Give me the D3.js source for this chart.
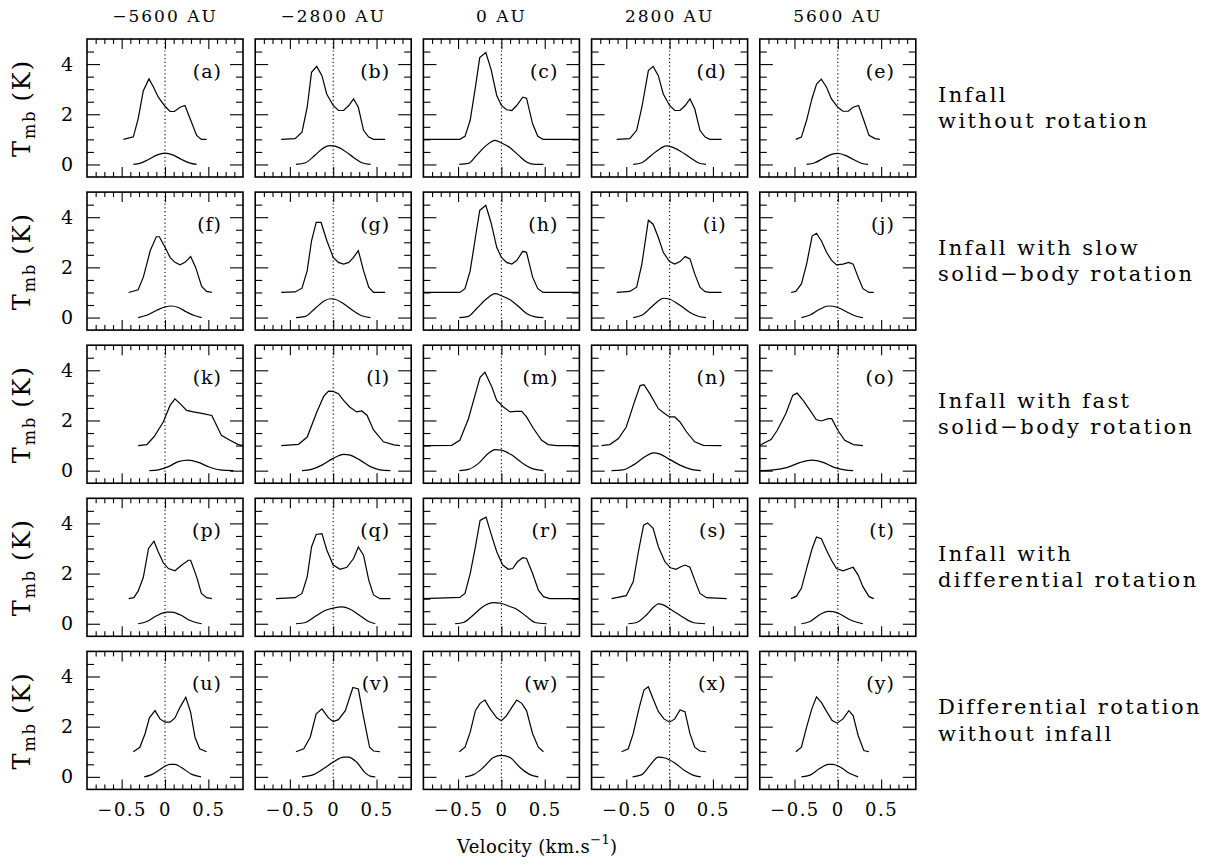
<!DOCTYPE html>
<html>
<head>
<meta charset="utf-8">
<script src="https://cdn.jsdelivr.net/npm/d3@7"></script>
<style>
  body { margin: 0; background: #fff; }
  svg { display: block; }
</style>
</head>
<body>
<div id="chart"></div>
<script>
// offsets along the cut, one per column
const offsets = ["−5600 AU", "−2800 AU", "0 AU", "2800 AU", "5600 AU"];
const rowLabels = [
  ["Infall", "without rotation"],
  ["Infall with slow", "solid−body rotation"],
  ["Infall with fast", "solid−body rotation"],
  ["Infall with", "differential rotation"],
  ["Differential rotation", "without infall"]
];
const panelLetters = "abcdefghijklmnopqrstuvwxy".split("");

const xMajorTicks = [-0.5, 0, 0.5];
const xMinorTicks = [-0.8, -0.7, -0.6, -0.4, -0.3, -0.2, -0.1, 0.1, 0.2, 0.3, 0.4, 0.6, 0.7, 0.8];
const yMajorTicks = [0, 2, 4];
const yMinorTicks = [0.5, 1, 1.5, 2.5, 3, 3.5, 4.5];

// [velocity, Tmb] pairs, upper profile (offset by 1 K) and lower profile
const infallUpper = [
  [[-0.48,1],[-0.365,1.1],[-0.31,1.82],[-0.25,2.94],[-0.185,3.41],[-0.135,3.1],[-0.077,2.68],[0,2.32],[0.058,2.11],[0.108,2.11],[0.173,2.28],[0.23,2.35],[0.29,1.82],[0.365,1.16],[0.42,1],[0.48,1]],
  [[-0.6,1],[-0.44,1.03],[-0.36,1.29],[-0.3,2.28],[-0.25,3.67],[-0.19,3.91],[-0.13,3.54],[-0.075,2.81],[0,2.35],[0.06,2.15],[0.12,2.15],[0.18,2.35],[0.235,2.61],[0.29,2.28],[0.35,1.36],[0.41,1.09],[0.465,1],[0.6,1]],
  [[-0.9,1],[-0.48,1],[-0.42,1.12],[-0.36,1.76],[-0.3,3.08],[-0.25,4.26],[-0.18,4.46],[-0.12,3.8],[-0.054,2.75],[0,2.35],[0.06,2.18],[0.12,2.15],[0.177,2.35],[0.246,2.68],[0.29,2.64],[0.36,1.62],[0.42,1.12],[0.48,1],[0.9,1]],
  [[-0.61,1],[-0.46,1.03],[-0.38,1.36],[-0.32,2.28],[-0.245,3.74],[-0.19,3.91],[-0.13,3.54],[-0.073,2.81],[0,2.35],[0.06,2.15],[0.12,2.15],[0.18,2.35],[0.235,2.61],[0.29,2.22],[0.35,1.36],[0.41,1.09],[0.465,1],[0.6,1]],
  [[-0.485,1],[-0.42,1.09],[-0.36,1.76],[-0.3,2.6],[-0.245,3.2],[-0.19,3.4],[-0.13,3.08],[-0.073,2.61],[0,2.28],[0.06,2.12],[0.12,2.12],[0.177,2.28],[0.24,2.35],[0.3,1.76],[0.36,1.16],[0.43,1.03],[0.485,1]]
];
const infallLower = [
  [[-0.365,0],[-0.29,0.04],[-0.19,0.2],[-0.096,0.37],[0,0.45],[0.096,0.37],[0.19,0.2],[0.29,0.05],[0.365,0]],
  [[-0.43,0],[-0.32,0.07],[-0.21,0.37],[-0.11,0.66],[-0.04,0.75],[0.02,0.73],[0.12,0.57],[0.235,0.28],[0.33,0.07],[0.43,0]],
  [[-0.485,0],[-0.38,0.04],[-0.285,0.37],[-0.17,0.77],[-0.073,0.96],[0,0.86],[0.1,0.67],[0.196,0.37],[0.29,0.1],[0.39,0],[0.485,0]],
  [[-0.42,0],[-0.32,0.07],[-0.21,0.37],[-0.11,0.63],[-0.04,0.74],[0.02,0.7],[0.12,0.54],[0.235,0.28],[0.33,0.07],[0.42,0]],
  [[-0.36,0],[-0.265,0.07],[-0.17,0.24],[-0.073,0.4],[0,0.44],[0.08,0.37],[0.18,0.2],[0.27,0.05],[0.35,0]]
];

const slowRotUpper = [
  [[-0.42,1],[-0.31,1.11],[-0.25,1.61],[-0.17,2.67],[-0.1,3.22],[-0.065,3.22],[0,2.8],[0.058,2.4],[0.115,2.2],[0.173,2.1],[0.23,2.2],[0.296,2.43],[0.354,2.0],[0.423,1.24],[0.48,1.04],[0.54,1]],
  [[-0.6,1],[-0.44,1.02],[-0.36,1.17],[-0.3,1.87],[-0.25,3.06],[-0.196,3.79],[-0.14,3.79],[-0.073,3.06],[0,2.4],[0.06,2.2],[0.12,2.13],[0.18,2.2],[0.235,2.4],[0.29,2.67],[0.35,1.87],[0.41,1.21],[0.465,1],[0.6,1]],
  [[-0.9,1],[-0.48,1],[-0.42,1.15],[-0.36,1.87],[-0.3,3.19],[-0.25,4.27],[-0.18,4.47],[-0.12,3.79],[-0.054,2.8],[0,2.4],[0.06,2.2],[0.12,2.13],[0.177,2.27],[0.246,2.64],[0.29,2.6],[0.36,1.61],[0.42,1.15],[0.48,1],[0.9,1]],
  [[-0.61,1],[-0.46,1.04],[-0.38,1.21],[-0.32,2.13],[-0.245,3.88],[-0.19,3.72],[-0.13,3.19],[-0.073,2.6],[0,2.23],[0.06,2.13],[0.12,2.23],[0.18,2.43],[0.235,2.34],[0.29,1.74],[0.35,1.21],[0.41,1.03],[0.465,1],[0.6,1]],
  [[-0.54,1],[-0.485,1.04],[-0.42,1.34],[-0.36,2.13],[-0.296,3.25],[-0.246,3.36],[-0.19,3.06],[-0.13,2.6],[-0.073,2.29],[-0.015,2.1],[0.06,2.13],[0.127,2.2],[0.177,2.13],[0.235,1.61],[0.29,1.15],[0.36,1],[0.415,1]]
];
const slowRotLower = [
  [[-0.31,0],[-0.21,0.09],[-0.096,0.29],[0,0.42],[0.077,0.46],[0.154,0.4],[0.25,0.22],[0.346,0.07],[0.423,0]],
  [[-0.43,0],[-0.32,0.05],[-0.21,0.36],[-0.11,0.65],[-0.035,0.75],[0.02,0.73],[0.12,0.55],[0.235,0.26],[0.33,0.07],[0.43,0]],
  [[-0.485,0],[-0.38,0.05],[-0.285,0.36],[-0.17,0.75],[-0.073,0.95],[0,0.87],[0.1,0.71],[0.196,0.45],[0.29,0.16],[0.39,0.03],[0.485,0]],
  [[-0.42,0],[-0.32,0.09],[-0.21,0.42],[-0.11,0.71],[-0.07,0.77],[0,0.73],[0.12,0.49],[0.235,0.2],[0.33,0.05],[0.42,0]],
  [[-0.42,0],[-0.32,0.1],[-0.21,0.33],[-0.11,0.46],[-0.054,0.45],[0.04,0.34],[0.14,0.16],[0.215,0.05],[0.29,0]]
];

const fastRotUpper = [
  [[-0.31,1],[-0.21,1.04],[-0.127,1.35],[-0.02,1.94],[0.058,2.6],[0.115,2.86],[0.173,2.67],[0.25,2.4],[0.327,2.34],[0.44,2.27],[0.54,2.2],[0.65,1.41],[0.75,1.21],[0.846,1.04],[0.9,1]],
  [[-0.6,1],[-0.4,1.05],[-0.3,1.34],[-0.19,2.33],[-0.11,2.96],[-0.054,3.17],[0,3.16],[0.06,3.07],[0.12,2.8],[0.19,2.54],[0.27,2.34],[0.33,2.38],[0.39,2.21],[0.465,1.62],[0.58,1.15],[0.7,1.03],[0.77,1]],
  [[-0.9,1],[-0.575,1.01],[-0.48,1.21],[-0.38,2.07],[-0.3,3.06],[-0.246,3.72],[-0.19,3.92],[-0.11,3.33],[-0.054,2.8],[0.023,2.54],[0.1,2.34],[0.158,2.36],[0.235,2.36],[0.29,2.14],[0.37,1.68],[0.465,1.21],[0.54,1.04],[0.64,1],[0.9,1]],
  [[-0.785,1],[-0.69,1.04],[-0.59,1.28],[-0.5,1.74],[-0.4,2.8],[-0.34,3.39],[-0.296,3.43],[-0.227,3.06],[-0.13,2.47],[-0.054,2.27],[0,2.14],[0.06,2.14],[0.12,1.94],[0.196,1.54],[0.29,1.15],[0.39,1.01],[0.6,1]],
  [[-0.9,1],[-0.85,1.1],[-0.77,1.24],[-0.7,1.6],[-0.6,2.27],[-0.52,3.0],[-0.47,3.09],[-0.4,2.8],[-0.32,2.4],[-0.25,2.04],[-0.19,1.98],[-0.11,2.07],[-0.07,2.07],[0,1.61],[0.08,1.21],[0.18,1.04],[0.29,1]]
];
const fastRotLower = [
  [[-0.18,0],[-0.077,0.03],[0.04,0.16],[0.154,0.36],[0.27,0.42],[0.385,0.33],[0.5,0.16],[0.635,0.03],[0.79,0]],
  [[-0.36,0],[-0.25,0.05],[-0.13,0.22],[0,0.49],[0.12,0.65],[0.196,0.62],[0.31,0.42],[0.43,0.16],[0.54,0.03],[0.66,0]],
  [[-0.485,0],[-0.38,0.05],[-0.265,0.29],[-0.15,0.69],[-0.073,0.84],[0,0.82],[0.12,0.62],[0.235,0.32],[0.35,0.09],[0.485,0]],
  [[-0.67,0],[-0.54,0.03],[-0.42,0.22],[-0.285,0.55],[-0.19,0.71],[-0.11,0.66],[0,0.45],[0.12,0.22],[0.25,0.05],[0.36,0]],
  [[-0.9,0],[-0.746,0.03],[-0.59,0.12],[-0.44,0.32],[-0.3,0.42],[-0.17,0.33],[-0.035,0.12],[0.08,0.03],[0.177,0]]
];

const diffRotUpper = [
  [[-0.42,1],[-0.36,1.04],[-0.31,1.3],[-0.25,1.85],[-0.19,3.0],[-0.127,3.29],[-0.077,2.86],[-0.02,2.43],[0.04,2.2],[0.115,2.11],[0.19,2.33],[0.27,2.53],[0.296,2.53],[0.365,1.87],[0.42,1.21],[0.48,1.04],[0.54,1]],
  [[-0.66,1],[-0.44,1.04],[-0.36,1.21],[-0.3,1.87],[-0.25,3.06],[-0.196,3.56],[-0.13,3.59],[-0.073,2.93],[0,2.34],[0.08,2.17],[0.158,2.25],[0.235,2.6],[0.29,3.06],[0.35,2.73],[0.41,1.74],[0.465,1.15],[0.54,1],[0.66,1]],
  [[-0.9,1],[-0.48,1.05],[-0.42,1.21],[-0.36,2.0],[-0.3,3.06],[-0.246,4.12],[-0.177,4.25],[-0.12,3.59],[-0.054,2.87],[0.015,2.34],[0.08,2.17],[0.13,2.2],[0.185,2.47],[0.246,2.63],[0.29,2.6],[0.36,2.0],[0.427,1.34],[0.485,1.08],[0.56,1],[0.9,1]],
  [[-0.67,1],[-0.5,1.12],[-0.42,1.67],[-0.36,2.87],[-0.3,3.93],[-0.254,4.02],[-0.19,3.8],[-0.13,3.07],[-0.054,2.47],[0.01,2.23],[0.073,2.17],[0.13,2.27],[0.177,2.34],[0.235,2.25],[0.29,1.74],[0.35,1.21],[0.427,1.04],[0.66,1]],
  [[-0.54,1],[-0.477,1.1],[-0.42,1.41],[-0.36,2.2],[-0.296,3.0],[-0.246,3.46],[-0.19,3.39],[-0.13,2.93],[-0.073,2.53],[-0.015,2.2],[0.06,2.11],[0.177,2.25],[0.235,1.94],[0.29,1.48],[0.36,1.08],[0.415,1]]
];
const diffRotLower = [
  [[-0.31,0],[-0.21,0.09],[-0.096,0.32],[0.02,0.46],[0.077,0.46],[0.173,0.36],[0.29,0.13],[0.423,0]],
  [[-0.43,0],[-0.32,0.05],[-0.21,0.29],[-0.092,0.53],[0,0.62],[0.1,0.67],[0.196,0.58],[0.31,0.32],[0.41,0.09],[0.485,0]],
  [[-0.535,0],[-0.44,0.05],[-0.32,0.36],[-0.21,0.69],[-0.092,0.84],[-0.015,0.82],[0.08,0.71],[0.177,0.58],[0.29,0.29],[0.39,0.05],[0.523,0]],
  [[-0.477,0],[-0.38,0.05],[-0.265,0.36],[-0.17,0.71],[-0.13,0.79],[-0.073,0.75],[0.023,0.55],[0.14,0.29],[0.27,0.05],[0.41,0]],
  [[-0.42,0],[-0.32,0.09],[-0.21,0.36],[-0.11,0.49],[-0.054,0.48],[0.04,0.36],[0.14,0.16],[0.29,0]]
];

const noInfallUpper = [
  [[-0.365,1],[-0.29,1.18],[-0.23,1.72],[-0.18,2.35],[-0.115,2.64],[-0.058,2.31],[0,2.18],[0.058,2.18],[0.115,2.35],[0.173,2.77],[0.24,3.17],[0.296,2.57],[0.346,1.58],[0.4,1.12],[0.48,1]],
  [[-0.43,1],[-0.34,1.12],[-0.265,1.58],[-0.196,2.51],[-0.13,2.71],[-0.054,2.35],[0,2.2],[0.06,2.28],[0.14,2.64],[0.227,3.56],[0.29,3.5],[0.35,2.38],[0.42,1.18],[0.465,1.03],[0.54,1]],
  [[-0.485,1],[-0.42,1.18],[-0.36,1.78],[-0.3,2.64],[-0.246,2.93],[-0.19,3.06],[-0.13,2.71],[-0.054,2.35],[0,2.24],[0.06,2.44],[0.12,2.77],[0.177,3.06],[0.235,2.93],[0.29,2.64],[0.36,1.72],[0.427,1.18],[0.485,1]],
  [[-0.554,1],[-0.477,1.12],[-0.42,1.72],[-0.35,2.77],[-0.296,3.46],[-0.246,3.59],[-0.19,3.1],[-0.13,2.61],[-0.065,2.31],[0,2.18],[0.06,2.31],[0.12,2.67],[0.177,2.6],[0.235,1.72],[0.29,1.18],[0.35,1.03],[0.42,1]],
  [[-0.485,1],[-0.42,1.18],[-0.36,1.98],[-0.3,2.71],[-0.246,3.19],[-0.19,2.97],[-0.13,2.61],[-0.065,2.24],[-0.008,2.14],[0.06,2.31],[0.127,2.64],[0.177,2.44],[0.235,1.65],[0.3,1.05],[0.36,1]]
];
const noInfallLower = [
  [[-0.24,0],[-0.154,0.09],[-0.058,0.29],[0,0.42],[0.058,0.5],[0.115,0.5],[0.19,0.37],[0.31,0.1],[0.415,0]],
  [[-0.36,0],[-0.227,0.09],[-0.11,0.33],[0,0.59],[0.12,0.79],[0.177,0.79],[0.27,0.59],[0.37,0.16],[0.427,0.03],[0.485,0]],
  [[-0.42,0],[-0.32,0.09],[-0.21,0.37],[-0.092,0.77],[0,0.86],[0.1,0.77],[0.215,0.37],[0.33,0.09],[0.427,0]],
  [[-0.427,0],[-0.32,0.09],[-0.227,0.46],[-0.13,0.79],[-0.05,0.75],[0.06,0.55],[0.177,0.24],[0.27,0.07],[0.36,0]],
  [[-0.42,0],[-0.32,0.07],[-0.21,0.33],[-0.11,0.5],[-0.054,0.5],[0.04,0.36],[0.14,0.13],[0.235,0]]
];

const upperRows = [infallUpper, slowRotUpper, fastRotUpper, diffRotUpper, noInfallUpper];
const lowerRows = [infallLower, slowRotLower, fastRotLower, diffRotLower, noInfallLower];

const width = 1212, height = 865;
const font = "'DejaVu Serif', serif";

const panelW = 156, panelH = 138;
const left0 = 87, colStep = 168.2;
const top0 = 39, rowStep = 153.1;

const svg = d3.select("#chart").append("svg")
  .attr("width", width)
  .attr("height", height)
  .style("font-family", font);

const x = d3.scaleLinear().domain([-0.9, 0.9]).range([0, panelW]);
const y = d3.scaleLinear().domain([-0.5, 5]).range([panelH, 0]);

const upperLine = d3.line().x(d => x(d[0])).y(d => y(d[1]));
const lowerLine = d3.line().curve(d3.curveMonotoneX).x(d => x(d[0])).y(d => y(d[1]));

const fmtX = d => d === 0 ? "0" : d3.format(".1f")(d);

function ticks(g, axis, values, size) {
  g.call(axis.tickValues(values).tickSize(size).tickFormat(""));
  g.select(".domain").remove();
  g.selectAll(".tick line").attr("stroke", "#000").attr("stroke-width", 1.1);
}

for (let r = 0; r < 5; r++) {
  for (let c = 0; c < 5; c++) {
    const px = left0 + c * colStep;
    const py = top0 + r * rowStep;
    const g = svg.append("g").attr("transform", `translate(${px},${py})`);

    // ticks on all four sides, pointing inward
    ticks(g.append("g").attr("transform", `translate(0,${panelH})`), d3.axisBottom(x), xMajorTicks, -10);
    ticks(g.append("g").attr("transform", `translate(0,${panelH})`), d3.axisBottom(x), xMinorTicks, -5);
    ticks(g.append("g"), d3.axisTop(x), xMajorTicks, -10);
    ticks(g.append("g"), d3.axisTop(x), xMinorTicks, -5);
    ticks(g.append("g"), d3.axisLeft(y), yMajorTicks, -13);
    ticks(g.append("g"), d3.axisLeft(y), yMinorTicks, -7);
    ticks(g.append("g").attr("transform", `translate(${panelW},0)`), d3.axisRight(y), yMajorTicks, -13);
    ticks(g.append("g").attr("transform", `translate(${panelW},0)`), d3.axisRight(y), yMinorTicks, -7);

    g.append("rect")
      .attr("width", panelW)
      .attr("height", panelH)
      .attr("fill", "none")
      .attr("stroke", "#000")
      .attr("stroke-width", 1.6);

    // dotted line at zero velocity
    g.append("line")
      .attr("x1", x(0)).attr("x2", x(0))
      .attr("y1", 0).attr("y2", panelH)
      .attr("stroke", "#000")
      .attr("stroke-width", 1.1)
      .attr("stroke-dasharray", "1.2,2.6");

    g.append("path")
      .attr("d", upperLine(upperRows[r][c]))
      .attr("fill", "none")
      .attr("stroke", "#000")
      .attr("stroke-width", 1.2);

    g.append("path")
      .attr("d", lowerLine(lowerRows[r][c]))
      .attr("fill", "none")
      .attr("stroke", "#000")
      .attr("stroke-width", 1.2);

    g.append("text")
      .attr("x", panelW - 21)
      .attr("y", 38.5)
      .attr("text-anchor", "end")
      .attr("font-size", 19)
      .attr("letter-spacing", 1)
      .text(`(${panelLetters[r * 5 + c]})`);

    if (c === 0) {
      const yl = g.append("g")
        .call(d3.axisLeft(y).tickValues(yMajorTicks).tickSize(0).tickPadding(14).tickFormat(d3.format("d")));
      yl.select(".domain").remove();
      yl.attr("font-family", font).attr("font-size", 19);
    }
    if (r === 4) {
      const xl = g.append("g")
        .attr("transform", `translate(0,${panelH})`)
        .call(d3.axisBottom(x).tickValues(xMajorTicks).tickSize(0).tickPadding(14).tickFormat(fmtX));
      xl.select(".domain").remove();
      xl.attr("font-family", font).attr("font-size", 18);
      xl.selectAll("text").attr("letter-spacing", 1.5);
    }
  }

  // y axis title for the row
  const cy = top0 + r * rowStep + panelH / 2;
  const yt = svg.append("text")
    .attr("transform", `translate(30,${cy}) rotate(-90)`)
    .attr("text-anchor", "middle")
    .attr("font-size", 24)
    .attr("letter-spacing", 2);
  yt.append("tspan").text("T");
  yt.append("tspan").attr("font-size", 16).attr("dy", 5).text("mb");
  yt.append("tspan").attr("dx", 8).attr("dy", -5).text("(K)");

  // model description on the right
  rowLabels[r].forEach((t, i) => {
    svg.append("text")
      .attr("x", 938)
      .attr("y", cy - 6.5 + i * 26.6)
      .attr("font-size", 21)
      .attr("letter-spacing", 2.4)
      .text(t);
  });
}

offsets.forEach((t, c) => {
  svg.append("text")
    .attr("x", left0 + c * colStep + panelW / 2)
    .attr("y", 21.7)
    .attr("text-anchor", "middle")
    .attr("font-size", 17)
    .attr("letter-spacing", 2)
    .text(t);
});

const xt = svg.append("text")
  .attr("x", 457)
  .attr("y", 853)
  .attr("font-size", 18)
  .attr("letter-spacing", 0.4);
xt.append("tspan").text("Velocity (km.s");
xt.append("tspan").attr("font-size", 13).attr("dy", -9).text("−1");
xt.append("tspan").attr("dy", 9).text(")");
</script>
</body>
</html>
